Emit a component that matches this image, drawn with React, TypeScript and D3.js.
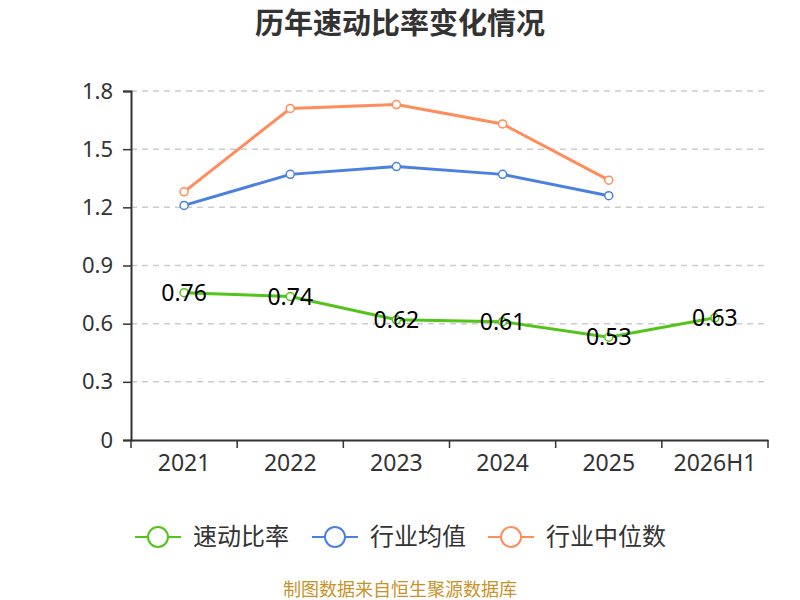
import React, { useEffect, useRef } from "react";
import * as d3 from "d3";

const categories = ["2021", "2022", "2023", "2024", "2025", "2026H1"];
const quickRatio = [0.76, 0.74, 0.62, 0.61, 0.53, 0.63];
const industryAvg = [1.21, 1.37, 1.41, 1.37, 1.26, null];
const industryMedian = [1.28, 1.71, 1.73, 1.63, 1.34, null];
const yTicks = [0, 0.3, 0.6, 0.9, 1.2, 1.5, 1.8];

const series = [
  { name: "速动比率", values: quickRatio, color: "#52c41a", labels: true },
  { name: "行业均值", values: industryAvg, color: "#4a80e0", labels: false },
  { name: "行业中位数", values: industryMedian, color: "#ff8c5a", labels: false },
];

const font = "'Noto Sans', 'Noto Sans CJK SC', sans-serif";

export default function App() {
  const svgRef = useRef<SVGSVGElement>(null);

  useEffect(() => {
    const svg = d3.select(svgRef.current);
    svg.selectAll("*").remove();
    const left = 131, right = 768, top = 91, bottom = 440;

    const x = d3.scaleBand().domain(categories).range([left, right]);
    const y = d3.scaleLinear().domain([0, 1.8]).range([bottom, top]);

    // title
    svg.append("text").attr("x", 400).attr("y", 34).attr("text-anchor", "middle")
      .attr("font-size", 29).attr("font-weight", "bold").attr("fill", "#333")
      .text("历年速动比率变化情况");

    // grid
    svg.append("g").selectAll("line").data(yTicks.filter((t) => t > 0)).join("line")
      .attr("x1", left).attr("x2", right)
      .attr("y1", (d) => y(d)).attr("y2", (d) => y(d))
      .attr("stroke", "#ccc").attr("stroke-width", 1.5).attr("stroke-dasharray", "6,5");

    // y axis
    const yAxis = svg.append("g").attr("transform", `translate(${left},0)`)
      .call(d3.axisLeft(y).tickValues(yTicks).tickSize(8).tickPadding(10)
        .tickFormat((d) => (d as number === 0 ? "0" : d3.format(".1f")(d as number))));
    yAxis.select(".domain").attr("stroke", "#333").attr("stroke-width", 2);
    yAxis.selectAll(".tick line").attr("stroke", "#333").attr("stroke-width", 1.5);
    yAxis.selectAll(".tick text").attr("font-size", 22).attr("fill", "#333").attr("font-family", font);

    // x axis
    const xAxis = svg.append("g").attr("transform", `translate(0,${bottom})`)
      .call(d3.axisBottom(x).tickSize(0).tickPadding(15));
    xAxis.select(".domain").attr("stroke", "#333").attr("stroke-width", 2);
    xAxis.selectAll(".tick text").attr("font-size", 23).attr("fill", "#333").attr("font-family", font);
    svg.append("g").selectAll("line").data(d3.range(categories.length + 1)).join("line")
      .attr("x1", (i) => left + i * x.step()).attr("x2", (i) => left + i * x.step())
      .attr("y1", bottom).attr("y2", bottom + 8)
      .attr("stroke", "#333").attr("stroke-width", 1.5);

    const cx = (i: number) => (x(categories[i]) as number) + x.bandwidth() / 2;

    series.forEach((s) => {
      const pts = s.values.map((v, i) => ({ v, i })).filter((p) => p.v != null) as { v: number; i: number }[];
      const line = d3.line<{ v: number; i: number }>().x((p) => cx(p.i)).y((p) => y(p.v));
      svg.append("path").attr("d", line(pts)).attr("fill", "none")
        .attr("stroke", s.color).attr("stroke-width", 3);
      svg.append("g").selectAll("circle").data(pts).join("circle")
        .attr("cx", (p) => cx(p.i)).attr("cy", (p) => y(p.v)).attr("r", 4)
        .attr("fill", "#fff").attr("stroke", s.color).attr("stroke-width", 1.5);
      if (s.labels) {
        svg.append("g").selectAll("text").data(pts).join("text")
          .attr("x", (p) => cx(p.i)).attr("y", (p) => y(p.v))
          .attr("dy", "0.35em").attr("text-anchor", "middle")
          .attr("font-size", 23).attr("fill", "#000").attr("font-family", font)
          .text((p) => d3.format(".2f")(p.v));
      }
    });

    // legend
    const legendX = [135, 312, 488];
    series.forEach((s, i) => {
      const g = svg.append("g").attr("transform", `translate(${legendX[i]},537)`);
      g.append("line").attr("x1", 0).attr("x2", 46).attr("y1", 0).attr("y2", 0)
        .attr("stroke", s.color).attr("stroke-width", 2);
      g.append("circle").attr("cx", 23).attr("cy", 0).attr("r", 10)
        .attr("fill", "#fff").attr("stroke", s.color).attr("stroke-width", 2);
      g.append("text").attr("x", 58).attr("y", 0).attr("dy", "0.35em")
        .attr("font-size", 24).attr("fill", "#333").attr("font-family", font).text(s.name);
    });

    // source
    svg.append("text").attr("x", 400).attr("y", 596).attr("text-anchor", "middle")
      .attr("font-size", 18).attr("fill", "#c8922a").attr("font-family", font)
      .text("制图数据来自恒生聚源数据库");
  }, []);

  return (
    <svg ref={svgRef} width={800} height={600}
      style={{ position: "absolute", left: 0, top: 0, fontFamily: font, background: "#fff" }} />
  );
}
